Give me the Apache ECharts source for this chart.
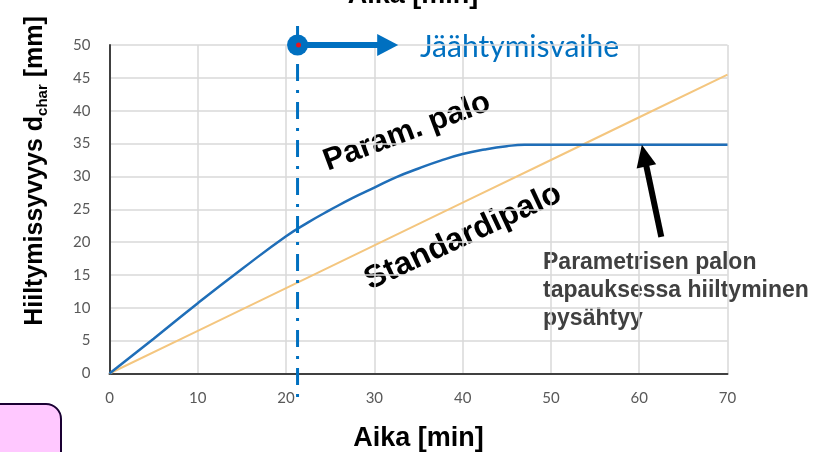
<!DOCTYPE html>
<html>
<head>
<meta charset="utf-8">
<script src="https://cdn.jsdelivr.net/npm/echarts@6/dist/echarts.min.js"></script>
<style>
  html, body { margin: 0; padding: 0; background: #fff; }
  #chart { width: 814px; height: 452px; }
</style>
</head>
<body>
<div id="chart"></div>
<script>
// hiiltymissyvyys [mm] ajan [min] funktiona
const paramTimes = [0, 5, 10, 15, 20, 22.5, 25, 27.5, 30, 32.5, 35, 37.5, 40, 42.5, 45, 47, 50, 60, 70];
const paramDepth = [0, 5.3, 10.7, 15.9, 20.9, 23.0, 24.9, 26.7, 28.3, 29.9, 31.2, 32.4, 33.4, 34.1, 34.6, 34.8, 34.8, 34.8, 34.8];
const stdTimes = [0, 10, 20, 30, 40, 50, 60, 70];
const stdDepth = [0, 6.5, 13, 19.5, 26, 32.5, 39, 45.5];
const xTicks = [0, 10, 20, 30, 40, 50, 60, 70];
const yTicks = [0, 5, 10, 15, 20, 25, 30, 35, 40, 45, 50];

// annotation anchors in data units
const coolingStart = 21.3;
const coolLineSpan = [52.9, -3.6];
const coolArrowEnd = 32.7;
const stopArrowFrom = [62.5, 20.8];
const stopArrowTo = [60.3, 34.8];

const BLUE = '#0070c0';

function arrow(from, to, headLen, headHalf, width, color) {
  const dx = to[0] - from[0], dy = to[1] - from[1];
  const len = Math.sqrt(dx * dx + dy * dy);
  const ux = dx / len, uy = dy / len;
  const bx = to[0] - ux * headLen, by = to[1] - uy * headLen;
  return [
    { type: 'line', shape: { x1: from[0], y1: from[1], x2: bx + ux * 2, y2: by + uy * 2 },
      style: { stroke: color, lineWidth: width } },
    { type: 'polygon', shape: { points: [[to[0], to[1]], [bx - uy * headHalf, by + ux * headHalf], [bx + uy * headHalf, by - ux * headHalf]] },
      style: { fill: color } }
  ];
}

function renderAnnotations(params, api) {
  const top = api.coord([coolingStart, coolLineSpan[0]]);
  const bot = api.coord([coolingStart, coolLineSpan[1]]);
  const c = api.coord([coolingStart, 50]);
  const tip = api.coord([coolArrowEnd, 50]);
  const children = [
    { type: 'line', shape: { x1: top[0], y1: top[1], x2: bot[0], y2: bot[1] },
      style: { stroke: BLUE, lineWidth: 3, lineDash: [17, 9, 3, 9] } }
  ];
  children.push(...arrow(c, tip, 21, 11, 6, BLUE));
  children.push({ type: 'circle', shape: { cx: c[0], cy: c[1], r: 10.5 }, style: { fill: BLUE } });
  children.push({ type: 'circle', shape: { cx: c[0] + 1, cy: c[1], r: 2.5 }, style: { fill: '#e8141c' } });
  children.push(...arrow(api.coord(stopArrowFrom), api.coord(stopArrowTo), 22, 10, 6, '#000'));
  return { type: 'group', children: children };
}

const chart = echarts.init(document.getElementById('chart'));

chart.setOption({
  animation: false,
  grid: { left: 109.5, right: 86.5, top: 45, bottom: 78.5, containLabel: false, outerBoundsMode: 'none' },
  xAxis: {
    type: 'value',
    min: xTicks[0],
    max: xTicks[xTicks.length - 1],
    interval: 10,
    name: 'Aika [min]',
    nameLocation: 'middle',
    nameGap: 52,
    nameTextStyle: { fontFamily: 'Liberation Sans', fontWeight: 'bold', fontSize: 27, color: '#000' },
    axisLine: { lineStyle: { color: '#404040', width: 2 } },
    axisTick: { show: false },
    axisLabel: { color: '#595959', fontFamily: 'Lato', fontSize: 15, margin: 17 },
    splitLine: { show: true, lineStyle: { color: '#d9d9d9', width: 1.5 } }
  },
  yAxis: {
    type: 'value',
    min: yTicks[0],
    max: yTicks[yTicks.length - 1],
    interval: 5,
    axisLine: { show: true, lineStyle: { color: '#404040', width: 2 } },
    axisTick: { show: false },
    axisLabel: { color: '#595959', fontFamily: 'Lato', fontSize: 15, margin: 19 },
    splitLine: { show: true, lineStyle: { color: '#d9d9d9', width: 1.5 } }
  },
  series: [
    {
      name: 'Standardipalo',
      type: 'line',
      data: stdTimes.map((t, i) => [t, stdDepth[i]]),
      showSymbol: false,
      lineStyle: { color: '#f4c67f', width: 2 }
    },
    {
      name: 'Param. palo',
      type: 'line',
      data: paramTimes.map((t, i) => [t, paramDepth[i]]),
      showSymbol: false,
      smooth: 0.5,
      lineStyle: { color: '#1f6eb8', width: 2.5 }
    },
    {
      type: 'custom',
      data: [[0, 0]],
      clip: false,
      silent: true,
      z: 5,
      renderItem: renderAnnotations
    }
  ],
  graphic: [
    {
      type: 'rect', left: -20, top: 403,
      shape: { width: 80, height: 70, r: 15 },
      style: { fill: '#ffc8ff', stroke: '#1a0033', lineWidth: 2 }
    },
    {
      type: 'text', x: 413, y: 9,
      style: { text: 'Aika [min]', fill: '#000', font: 'bold 27px "Liberation Sans"', align: 'center', verticalAlign: 'bottom' }
    },
    {
      type: 'text', x: 35, y: 171, rotation: Math.PI / 2,
      style: {
        text: '{m|Hiiltymissyvyys d}{s|char}{m| [mm]}',
        align: 'center', verticalAlign: 'middle',
        rich: {
          m: { fontFamily: 'Liberation Sans', fontWeight: 'bold', fontSize: 25, lineHeight: 30, fill: '#000' },
          s: { fontFamily: 'Liberation Sans', fontWeight: 'bold', fontSize: 15, lineHeight: 20, verticalAlign: 'bottom', fill: '#000' }
        }
      }
    },
    {
      type: 'text', x: 420, y: 47,
      style: { text: 'Jäähtymisvaihe', fill: BLUE, font: '30px Lato', align: 'left', verticalAlign: 'middle' }
    },
    {
      type: 'text', x: 407, y: 132, rotation: 20.5 * Math.PI / 180,
      style: { text: 'Param. palo', fill: '#000', font: 'bold 31px "Liberation Sans"', align: 'center', verticalAlign: 'middle' }
    },
    {
      type: 'text', x: 463, y: 237, rotation: 25 * Math.PI / 180,
      style: { text: 'Standardipalo', fill: '#000', font: 'bold 32px "Liberation Sans"', align: 'center', verticalAlign: 'middle' }
    },
    {
      type: 'text', x: 543, y: 249,
      style: {
        text: 'Parametrisen palon\ntapauksessa hiiltyminen\npysähtyy',
        fill: '#404040', font: 'bold 23px "Liberation Sans"', lineHeight: 28,
        align: 'left', verticalAlign: 'top'
      }
    }
  ]
});
</script>
</body>
</html>
